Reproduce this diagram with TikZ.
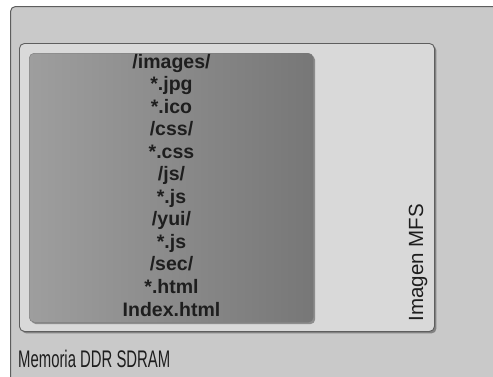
\documentclass[tikz,border=0pt]{standalone}
\usepackage{fontspec}
\setmainfont{Liberation Sans}
\newfontfamily\narrowfont[FakeStretch=0.62]{Liberation Sans}
\usetikzlibrary{shadows}

\definecolor{ramfill}{HTML}{C9C9C9}
\definecolor{mfsfill}{HTML}{D9D9D9}
\definecolor{edgegray}{HTML}{5E5E5E}
\definecolor{darkleft}{HTML}{9E9E9E}
\definecolor{darkright}{HTML}{777777}
\definecolor{txtgray}{HTML}{1E1E1E}

\tikzset{
  panel/.style={draw=edgegray, rounded corners=5pt, anchor=north west, inner sep=0pt,
    drop shadow={shadow xshift=2pt, shadow yshift=-2pt, fill=black, opacity=0.35}},
  fname/.style={font=\bfseries\fontsize{19.5}{20}\selectfont, text=txtgray, anchor=base}
}

\begin{document}
\begin{tikzpicture}[x=1pt, y=-1pt]
  \useasboundingbox (0,0) rectangle (493,376);
  \clip (0,0) rectangle (493,376);
  \fill[white] (0,0) rectangle (493,376);

  % memory and image boxes
  \node[draw=edgegray, line width=1pt, rounded corners=5pt, fill=ramfill, anchor=north west,
    minimum width=520pt, minimum height=400pt] (ram) at (10,6) {};
  \node[panel, fill=mfsfill, line width=0.9pt, minimum width=415pt, minimum height=288pt] (mfs) at (19,43) {};
  \node[panel, draw=darkright, left color=darkleft, right color=darkright, line width=0.4pt,
    minimum width=284pt, minimum height=269pt] (files) at (29,53) {};

  % file list
  \foreach \f [count=\i] in {/images/, *.jpg, *.ico, /css/, *.css, /js/, *.js, /yui/, *.js, /sec/, *.html, Index.html}
    \node[fname] (f\i) at (171.5, {68+22.55*(\i-1)}) {\f};

  \node[rotate=90, anchor=base, text=txtgray, font=\fontsize{20.5}{21}\selectfont] (mfslabel) at (423,262.5) {Imagen MFS};
  \node[anchor=base west, inner sep=0pt, text=txtgray, font=\narrowfont\fontsize{24}{24}\selectfont] (ramlabel) at (18,367) {Memoria DDR SDRAM};
\end{tikzpicture}
\end{document}
